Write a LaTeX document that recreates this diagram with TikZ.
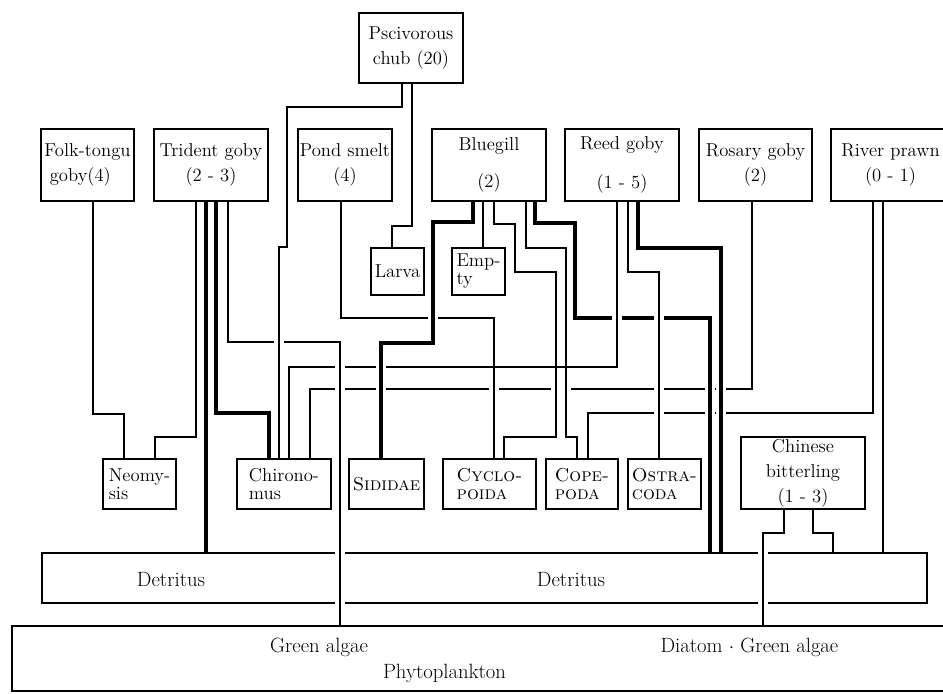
\documentclass[tikz,border=0pt]{standalone}
\usetikzlibrary{backgrounds}

\begin{document}
\begin{tikzpicture}[x=0.75pt,y=0.75pt,yscale=-1,xscale=1,
  box/.style={draw,line width=1.1pt,inner sep=0pt,outer sep=0pt,align=center,font=\fontsize{14}{18.75}\selectfont},
  topbox/.style={box,minimum height=54pt},
  preybox/.style={box,minimum height=37.5pt,align=left,font=\fontsize{14}{13.5}\selectfont},
  captxt/.style={inner sep=0pt,font=\fontsize{15.5}{18}\selectfont},
  thinlink/.style={line width=1.3pt},
  midlink/.style={line width=2.2pt},
  thicklink/.style={line width=3pt},
  hop/.style={preaction={draw=white,line width=7pt}},
  gap/.style={draw=white,line width=7pt}]
\useasboundingbox (0,0) rectangle (943,693);

%Shape: Rectangle
\node[box,minimum width=78pt,minimum height=52.5pt] (chub) at (411,48) {Pscivorous\\chub (20)};
%Shape: Rectangle
\node[topbox,minimum width=69.75pt,align=left] (folk) at (87.5,165) {Folk-tongu\\\hspace*{4pt}goby(4)};
%Shape: Rectangle
\node[topbox,minimum width=85.5pt] (trident) at (211,165) {Trident goby\\(2 - 3)};
%Shape: Rectangle
\node[topbox,minimum width=70.5pt] (pond) at (345,165) {Pond smelt\\(4)};
%Shape: Rectangle
\node[topbox,minimum width=85.5pt] (bluegill) at (489,165) {Bluegill\\[9pt](2)};
%Shape: Rectangle
\node[topbox,minimum width=85.5pt] (reed) at (622,165) {Reed goby\\[10pt](1 - 5)};
%Shape: Rectangle
\node[topbox,minimum width=84.75pt] (rosary) at (755.5,165) {Rosary goby\\(2)};
%Shape: Rectangle
\node[topbox,minimum width=89.25pt] (prawn) at (890.5,165) {River prawn\\(0 - 1)};

%Shape: Rectangle
\node[box,minimum width=39.75pt,minimum height=35.25pt] (larva) at (397.5,271.5) {Larva};
%Shape: Rectangle
\node[preybox,minimum width=39.75pt,minimum height=35.25pt] (empty) at (478.5,271.5) {Emp-\\ty};

%Shape: Rectangle
\node[preybox,minimum width=54.75pt] (neomysis) at (139.5,484) {Neomy-\\sis};
%Shape: Rectangle
\node[preybox,minimum width=70.5pt] (chiro) at (284,484) {Chirono-\\mus};
%Shape: Rectangle
\node[preybox,minimum width=56.25pt] (sididae) at (386.5,484) {\textsc{Sididae}};
%Shape: Rectangle
\node[preybox,minimum width=69.75pt] (cyclo) at (489.5,484) {\textsc{Cyclo-}\\\textsc{poida}};
%Shape: Rectangle
\node[preybox,minimum width=54pt] (cope) at (582,484) {\textsc{Cope-}\\\textsc{poda}};
%Shape: Rectangle
\node[preybox,minimum width=54.75pt] (ostra) at (664.5,484) {\textsc{Ostra-}\\\textsc{coda}};
%Shape: Rectangle
\node[box,minimum width=93pt,minimum height=54pt] (bitter) at (803,473) {Chinese\\bitterling\\(1 - 3)};

%Shape: Rectangle (border drawn behind, so crossing lines break it)
\node[minimum width=663.75pt,minimum height=37.5pt,inner sep=0pt,outer sep=0pt] (detritus) at (484.5,578) {};
% Text Node
\node[captxt] (detA) at (171,580) {Detritus};
% Text Node
\node[captxt] (detB) at (571,580) {Detritus};

%Shape: Rectangle
\node[box,minimum width=703.5pt,minimum height=48.75pt] (phyto) at (481,658.5) {};
% Text Node
\node[captxt] (greenA) at (319,647) {Green algae};
% Text Node
\node[captxt] (diatom) at (749.5,647) {Diatom $\cdot$ Green algae};
% Text Node
\node[captxt] (plankton) at (444.5,673) {Phytoplankton};

\begin{scope}[on background layer]
%Straight Lines
\draw[thinlink] (752,0 |- rosary.south) -- (752,389) -- (310,389) -- (310,0 |- chiro.north);
%Straight Lines
\draw[thinlink] (873,0 |- prawn.south) -- (873,413) -- (588,413) -- (588,0 |- cope.north);
%Straight Lines
\draw[thicklink,hop] (535,0 |- bluegill.south) -- (535,223) -- (575,223) -- (575,318) -- (710,318) -- (710,0 |- detritus.north);
%Straight Lines
\draw[thicklink,hop] (638,0 |- reed.south) -- (638,248) -- (721,248) -- (721,0 |- detritus.north);
%knock-out where the reed goby line crosses
\path[gap] (617,0 |- reed.south) -- (617,367);
%Straight Lines
\draw[thinlink,hop] (628,0 |- reed.south) -- (628,272) -- (659,272) -- (659,0 |- ostra.north);
%Straight Lines
\draw[thinlink,hop] (341,0 |- pond.south) -- (341,318) -- (494,318) -- (494,0 |- cyclo.north);
%Straight Lines
\draw[thinlink,hop] (494,0 |- bluegill.south) -- (494,224) -- (515,224) -- (515,272) -- (556,272) -- (556,437) -- (504,437) -- (504,0 |- cyclo.north);
%Straight Lines
\draw[thinlink,hop] (526,0 |- bluegill.south) -- (526,248) -- (566,248) -- (566,437) -- (577,437) -- (577,0 |- cope.north);
%Straight Lines
\draw[midlink] (617,0 |- reed.south) -- (617,367) -- (289,367) -- (289,0 |- chiro.north);
%Straight Lines
\draw[thicklink,hop] (473,0 |- bluegill.south) -- (473,222) -- (433,222) -- (433,343) -- (381,343) -- (381,0 |- sididae.north);

%Straight Lines
\draw[thinlink] (93,0 |- folk.south) -- (93,414) -- (124,414) -- (124,0 |- neomysis.north);
%Straight Lines
\draw[thinlink] (196,0 |- trident.south) -- (196,437) -- (155,437) -- (155,0 |- neomysis.north);
%Straight Lines
\draw[thicklink] (206,0 |- trident.south) -- (206,0 |- detritus.north);
%Straight Lines
\draw[thicklink] (216,0 |- trident.south) -- (216,413) -- (269,413) -- (269,0 |- chiro.north);
%Straight Lines
\draw[thinlink] (412,0 |- chub.south) -- (412,226) -- (392,226) -- (392,0 |- larva.north);
%Straight Lines
\draw[thinlink] (483,0 |- bluegill.south) -- (483,0 |- empty.north);
%Straight Lines
\draw[thinlink] (883,0 |- prawn.south) -- (883,0 |- detritus.north);
%Straight Lines
\draw[thinlink] (813,0 |- bitter.south) -- (813,533) -- (833,533) -- (833,0 |- detritus.north);

%Shape: Rectangle
\draw[line width=1.1pt] (detritus.north west) rectangle (detritus.south east);

%Straight Lines
\draw[thinlink,hop] (228,0 |- trident.south) -- (228,342) -- (340,342) -- (340,0 |- phyto.north);
%Straight Lines
\draw[thinlink,hop] (402,0 |- chub.south) -- (402,107) -- (287,107) -- (287,247) -- (279,247) -- (279,0 |- chiro.north);
%Straight Lines
\draw[thinlink,hop] (784,0 |- bitter.south) -- (784,533) -- (763,533) -- (763,0 |- phyto.north);
\end{scope}

\end{tikzpicture}
\end{document}
